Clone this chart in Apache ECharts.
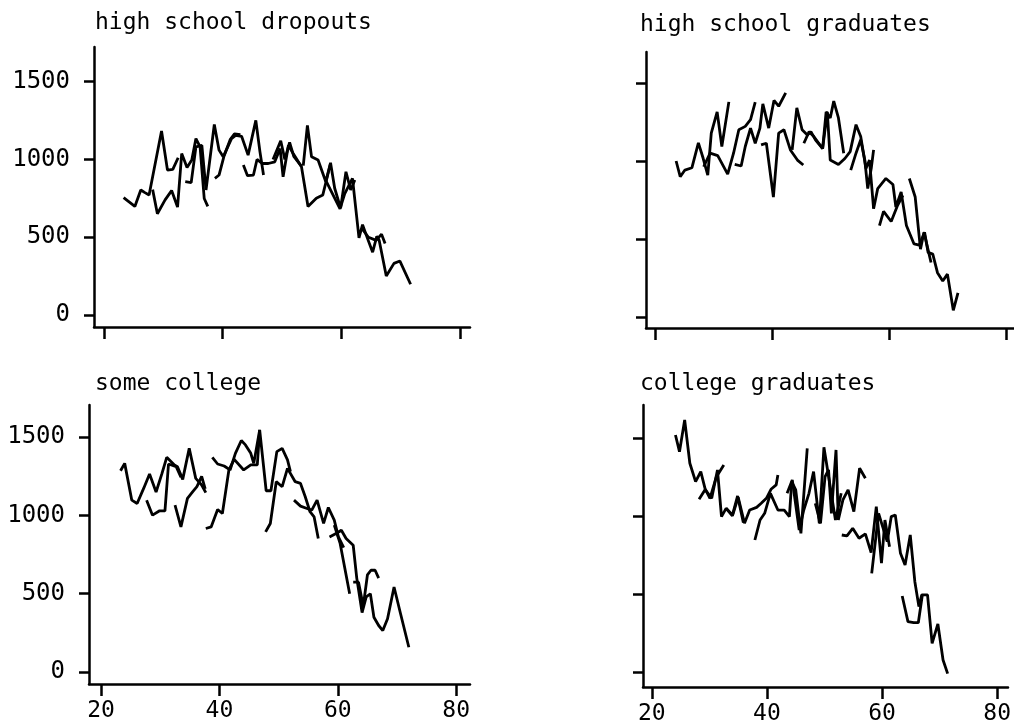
<!DOCTYPE html>
<html>
<head>
<meta charset="utf-8">
<script src="https://cdn.jsdelivr.net/npm/echarts@6/dist/echarts.min.js"></script>
<style>html,body{margin:0;padding:0;background:#fff}#c{width:1014px;height:728px}</style>
</head>
<body>
<div id="c"></div>
<script>
// ---- panel titles and tick labels ----
const panelTitles = ['high school dropouts', 'high school graduates', 'some college', 'college graduates'];
const ageTicks = [20, 40, 60, 80];
const earnTicks = [0, 500, 1000, 1500];

// ---- high school dropouts: cohort segments [age, earnings] ----
const drop1 = [[23.3,755],[25.2,698],[26.2,804],[26.9,787],[27.6,772],[29.7,1183],[30.7,932],[31.6,936],[32.5,1011]];
const drop2 = [[28.2,806],[29.0,651],[30.3,740],[31.4,800],[32.4,694],[33.1,1038],[34.0,949],[34.8,996],[35.5,1134],[36.2,1081],[36.9,749],[37.5,698]];
const drop3 = [[33.7,857],[34.7,851],[35.5,1081],[36.5,1091],[37.2,804],[38.6,1225],[39.4,1060],[40.1,1017],[41.5,1134],[42.2,1155],[43.2,1149],[44.3,1028],[45.6,1251],[46.3,1049],[46.9,900]];
const drop4 = [[38.7,879],[39.4,900],[40.2,1017],[41.3,1130],[42.0,1165],[43.0,1160]];
const drop5 = [[43.5,964],[44.2,896],[45.2,900],[45.8,1000],[46.7,974],[47.7,974],[48.8,985],[49.7,1070],[50.2,889],[51.1,1091],[51.9,1038],[53.3,953],[54.4,698],[55.8,751],[56.9,772],[58.2,974]];
const drop6 = [[48.5,1000],[49.8,1120],[50.5,1000],[51.3,1110],[52.0,1020],[53.3,955]];
const drop7 = [[53.6,960],[54.3,1219],[55.0,1017],[56.1,996],[57.4,857],[58.2,979],[58.9,815],[59.9,687],[60.8,921],[61.6,804],[62.3,868]];
const drop8 = [[57.5,857],[59.8,683],[60.6,780],[61.9,879],[63.0,496],[63.6,581],[64.4,496],[65.3,404],[66.0,506],[66.4,481],[67.6,251],[68.9,332],[69.9,347],[71.7,198]];
const drop9 = [[63.4,560],[64.6,500],[65.9,480],[66.8,520],[67.4,460]];

// ---- high school graduates ----
const grad1 = [[23.6,1000],[24.3,899],[25.1,942],[26.3,957],[27.4,1116],[28.2,1019],[29.0,909],[29.6,1179],[30.6,1315],[31.4,1093],[32.6,1379]];
const grad2 = [[28.3,963],[29.4,1050],[30.7,1034],[32.4,916],[33.4,1050],[34.3,1200],[35.4,1222],[36.3,1265],[37.1,1377]];
const grad3 = [[33.6,978],[34.7,968],[35.4,1093],[36.3,1211],[37.1,1114],[37.9,1211],[38.4,1366],[39.4,1211],[40.3,1388],[41.1,1351],[42.3,1437]];
const grad4 = [[38.1,1103],[39.0,1114],[40.2,769],[41.1,1179],[42.0,1200],[43.1,1071],[44.3,1006],[45.3,974]];
const grad5 = [[43.4,1071],[44.2,1341],[45.1,1200],[46.0,1166],[46.6,1188],[47.4,1134],[48.6,1080],[49.2,1315],[49.9,1276],[50.5,1384],[51.3,1276],[52.2,1050]];
const grad6 = [[45.4,1114],[46.3,1188],[47.1,1157],[48.6,1080],[49.4,1315],[49.9,1006],[51.3,978],[52.4,1016],[53.3,1060],[54.3,1233],[55.1,1157],[56.0,952],[56.6,1006],[57.3,694]];
const grad7 = [[53.4,942],[54.3,1050],[55.1,1136],[55.8,1006],[56.3,823],[56.9,953],[57.3,1071]];
const grad8 = [[57.3,694],[58.0,823],[59.4,888],[60.6,849],[61.1,705],[62.0,802],[62.9,586],[64.2,468],[65.1,461],[66.0,543],[66.6,414],[67.4,403],[68.2,284],[69.1,231],[69.9,275],[70.9,43],[71.7,155]];
const grad9 = [[58.3,586],[59.0,677],[60.3,612],[61.4,716],[62.3,780]];
const grad10 = [[63.4,888],[64.4,769],[65.3,435],[65.9,543],[66.7,414],[67.1,349]];

// ---- some college ----
const some1 = [[23.3,1286],[24.0,1333],[25.2,1098],[26.1,1077],[27.2,1173],[28.2,1265],[29.3,1150],[30.3,1269],[31.1,1372],[32.4,1323],[32.9,1312],[33.8,1231],[34.9,1429],[36.0,1237],[37.0,1195],[37.7,1146]];
const some2 = [[27.7,1098],[28.7,1002],[29.9,1030],[30.8,1030],[31.4,1329],[32.7,1312],[33.5,1244]];
const some3 = [[32.5,1066],[33.5,927],[34.6,1109],[35.5,1152],[36.2,1184],[37.0,1250],[37.6,1170]];
const some4 = [[37.7,917],[38.6,927],[39.7,1038],[40.5,1013],[41.6,1291],[42.5,1359],[44.1,1291],[45.3,1323],[46.4,1323],[46.8,1547]];
const some5 = [[38.8,1372],[39.7,1329],[40.8,1316],[41.8,1291],[42.7,1397],[43.7,1479],[44.4,1451],[45.3,1397],[45.8,1333],[46.8,1547],[47.9,1158],[48.7,1158],[49.7,1408],[50.6,1429],[51.5,1355],[52.0,1280]];
const some6 = [[47.8,895],[48.6,949],[49.6,1216],[50.6,1184],[51.5,1301],[52.8,1216],[53.7,1205],[54.5,1120],[55.3,1024],[56.0,991],[56.7,853]];
const some7 = [[52.6,1098],[53.7,1060],[54.8,1045],[55.6,1034],[56.5,1098],[57.6,949],[58.4,1051],[59.4,970],[60.1,863],[61.0,795]];
const some8 = [[58.6,863],[59.7,885],[60.6,906],[61.4,853],[62.6,810],[63.2,600],[64.1,380],[64.8,480],[65.5,500],[66.1,350],[66.9,297],[67.6,265],[68.4,340],[69.5,543],[70.6,372],[72.0,158]];
const some9 = [[59.4,938],[60.4,820],[61.2,660],[62.0,500]];
const some10 = [[62.6,574],[63.5,574],[64.3,420],[65.0,620],[65.6,650],[66.3,650],[66.9,600]];

// ---- college graduates ----
const coll1 = [[24.1,1519],[24.8,1412],[25.7,1615],[26.6,1338],[27.6,1220],[28.5,1284],[29.3,1167],[30.4,1113],[31.4,1295],[32.1,996],[32.9,1049],[34.0,1006],[34.9,1128],[35.9,957]];
const coll2 = [[28.2,1107],[29.3,1171],[30.1,1113],[31.2,1250],[32.5,1327]];
const coll3 = [[32.9,1049],[34.0,1000],[35.0,1120],[36.1,953],[37.0,1038],[38.2,1055],[39.0,1081],[39.9,1113],[40.7,1171],[41.6,1199],[41.9,1263]];
const coll4 = [[37.9,846],[38.8,974],[39.6,1017],[40.6,1145],[41.9,1038],[43.0,1038],[43.9,996],[44.3,1220],[45.0,1167],[45.9,889],[47.0,1433]];
const coll5 = [[43.5,1145],[44.4,1231],[45.6,910],[46.4,1038],[47.3,1145],[48.1,1284],[49.1,953],[49.9,1440],[50.9,1209],[51.9,974],[52.9,1145]];
const coll6 = [[48.4,1081],[49.3,953],[50.1,1252],[50.7,1295],[51.2,1017],[52.0,1423],[52.4,974],[53.2,1103],[54.1,1167],[55.1,1028],[56.1,1306],[57.1,1242]];
const coll7 = [[53.0,878],[53.9,872],[54.9,921],[56.0,857],[57.1,885],[58.1,765],[59.0,1060],[59.9,697],[60.5,974],[61.3,803]];
const coll8 = [[58.2,632],[58.8,825],[59.4,1017],[60.1,932],[60.9,835],[61.6,996],[62.3,1006],[63.2,761],[64.0,686],[64.9,878],[65.7,579],[66.4,419],[66.9,494],[67.9,494],[68.7,184],[69.7,308],[70.6,77],[71.4,-10]];
const coll9 = [[63.5,487],[64.5,323],[65.5,316],[66.3,316],[67.0,494]];

const panelSeries = [
  [drop1, drop2, drop3, drop4, drop5, drop6, drop7, drop8, drop9],
  [grad1, grad2, grad3, grad4, grad5, grad6, grad7, grad8, grad9, grad10],
  [some1, some2, some3, some4, some5, some6, some7, some8, some9, some10],
  [coll1, coll2, coll3, coll4, coll5, coll6, coll7, coll8, coll9]
];

const FONT = '"DejaVu Sans Mono", monospace';
const grids = [
  {left: 94, top: 47, width: 376, height: 280},
  {left: 646, top: 52, width: 368, height: 276},
  {left: 89, top: 405, width: 381, height: 279},
  {left: 643, top: 405, width: 371, height: 282}
];
const xRanges = [[18.31, 81.72], [18.46, 81.26], [17.97, 82.33], [18.46, 81.88]];
const yRanges = [[-77, 1723], [-70.5, 1698.7], [-76.7, 1706], [-96, 1711]];
const titlePos = [[95, 12], [640, 14], [95, 373], [640, 373]];

const chart = echarts.init(document.getElementById('c'), null, {renderer: 'canvas'});
const option = {
  animation: false,
  backgroundColor: '#fff',
  title: panelTitles.map((t, i) => ({
    text: t, left: titlePos[i][0], top: titlePos[i][1], padding: 0,
    textStyle: {fontFamily: FONT, fontSize: 23, fontWeight: 'normal', color: '#000'}
  })),
  grid: grids,
  xAxis: grids.map((g, i) => ({
    type: 'value', gridIndex: i, min: xRanges[i][0], max: xRanges[i][1],
    axisLine: {show: true, onZero: false, lineStyle: {color: '#000', width: 2.5}},
    axisTick: {show: true, length: 12, customValues: ageTicks, lineStyle: {color: '#000', width: 2.5}},
    axisLabel: {show: i >= 2, customValues: ageTicks, margin: 16, fontFamily: FONT, fontSize: 23, color: '#000',
      formatter: v => String(v)},
    splitLine: {show: false}
  })),
  yAxis: grids.map((g, i) => ({
    type: 'value', gridIndex: i, min: yRanges[i][0], max: yRanges[i][1],
    axisLine: {show: true, onZero: false, lineStyle: {color: '#000', width: 2.5}},
    axisTick: {show: true, length: 10, customValues: earnTicks, lineStyle: {color: '#000', width: 2.5}},
    axisLabel: {show: i % 2 === 0, customValues: earnTicks, margin: 24, fontFamily: FONT, fontSize: 24, color: '#000',
      formatter: v => String(v)},
    splitLine: {show: false}
  })),
  series: []
};
panelSeries.forEach((list, p) => {
  list.forEach(seg => {
    option.series.push({
      type: 'line', xAxisIndex: p, yAxisIndex: p, data: seg,
      showSymbol: false, symbol: 'none', silent: true,
      lineStyle: {color: '#000', width: 2.8}
    });
  });
});
chart.setOption(option);
</script>
</body>
</html>
